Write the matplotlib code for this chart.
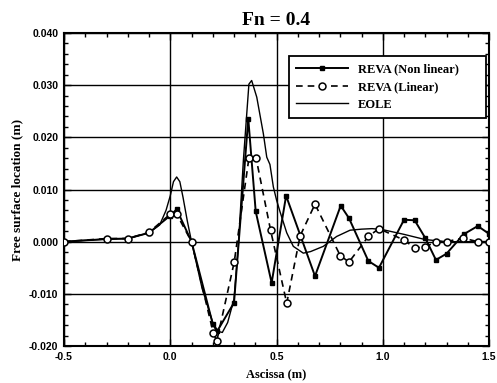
import matplotlib
matplotlib.use("Agg")
import matplotlib.pyplot as plt
from matplotlib.ticker import MultipleLocator, FormatStrFormatter

# ---- data ----
nonlin_x = [-0.5, -0.3, -0.2, -0.1, 0.0, 0.03, 0.1, 0.2, 0.22, 0.30, 0.367, 0.402,
            0.477, 0.545, 0.681, 0.802, 0.841, 0.932, 0.982, 1.10, 1.15, 1.20,
            1.25, 1.30, 1.38, 1.447, 1.50]
nonlin_y = [0.0, 0.0005, 0.0006, 0.0017, 0.0050, 0.0062, 0.0, -0.0158, -0.0172, -0.0117,
            0.0236, 0.0058, -0.0079, 0.0088, -0.0066, 0.0069, 0.0045, -0.0037, -0.0050,
            0.0042, 0.0041, 0.0007, -0.0035, -0.0023, 0.0014, 0.0030, 0.0015]

lin_x = [-0.5, -0.3, -0.2, -0.1, 0.0, 0.03, 0.1, 0.203, 0.219, 0.301, 0.37, 0.404,
         0.472, 0.548, 0.611, 0.681, 0.80, 0.841, 0.932, 0.982, 1.10, 1.15, 1.20,
         1.25, 1.30, 1.376, 1.447, 1.50]
lin_y = [0.0, 0.0006, 0.0006, 0.0018, 0.0053, 0.0053, 0.0, -0.0176, -0.0190, -0.0039,
         0.0160, 0.0160, 0.0022, -0.0118, 0.0011, 0.0072, -0.0027, -0.0039, 0.0010,
         0.0025, 0.0003, -0.0012, -0.0010, 0.0, 0.0, 0.0007, 0.0, 0.0]

eole_x = [-0.5, -0.3, -0.2, -0.1, -0.05, -0.02, 0.0, 0.015, 0.03, 0.045, 0.06, 0.08,
          0.10, 0.15, 0.20, 0.225, 0.245, 0.27, 0.30, 0.32, 0.344, 0.37, 0.383, 0.407,
          0.438, 0.454, 0.469, 0.485, 0.50, 0.516, 0.548, 0.579, 0.626, 0.66, 0.72,
          0.783, 0.846, 0.90, 0.95, 1.00, 1.10, 1.20, 1.30, 1.50]
eole_y = [0.0, 0.0005, 0.0006, 0.0017, 0.0032, 0.0060, 0.0088, 0.0115, 0.0124, 0.0115,
          0.0085, 0.0040, 0.0, -0.0090, -0.0155, -0.0172, -0.0174, -0.0155, -0.0110,
          -0.0010, 0.0156, 0.0302, 0.0309, 0.0277, 0.0207, 0.0162, 0.0148, 0.0105,
          0.0080, 0.0058, 0.0017, -0.0009, -0.0022, -0.0019, -0.0009, 0.0010, 0.0022,
          0.0024, 0.0025, 0.0023, 0.0014, 0.0004, 0.0, 0.0]

title = "Fn = 0.4"
xlabel = "Ascissa (m)"
ylabel = "Free surface location (m)"
labels = ["REVA (Non linear)", "REVA (Linear)", "EOLE"]

serif = ["Liberation Serif", "DejaVu Serif"]
sans = ["Liberation Sans", "DejaVu Sans"]

fig = plt.figure(figsize=(4.97, 3.83), dpi=100)
ax = fig.add_axes([0.1288, 0.0966, 0.984 - 0.1288, 0.9138 - 0.0966])

ax.plot(nonlin_x, nonlin_y, color="black", lw=1.4, marker="s", ms=3,
        mfc="black", mec="black", label=labels[0], zorder=3)
ax.plot(lin_x, lin_y, color="black", lw=1.2, ls=(0, (4, 3)), marker="o", ms=5,
        mfc="white", mec="black", mew=1.1, label=labels[1], zorder=4)
ax.plot(eole_x, eole_y, color="black", lw=1.0, label=labels[2], zorder=2)

ax.set_xlim(-0.5, 1.5)
ax.set_ylim(-0.02, 0.04)
ax.xaxis.set_major_locator(MultipleLocator(0.5))
ax.xaxis.set_minor_locator(MultipleLocator(0.1))
ax.yaxis.set_major_locator(MultipleLocator(0.01))
ax.yaxis.set_minor_locator(MultipleLocator(0.002))
ax.xaxis.set_major_formatter(FormatStrFormatter("%.1f"))
ax.yaxis.set_major_formatter(FormatStrFormatter("%.3f"))

ax.grid(True, which="major", color="black", lw=1.0)
ax.set_axisbelow(True)
for s in ax.spines.values():
    s.set_linewidth(1.5)
ax.tick_params(which="both", direction="in", top=True, right=True, width=1.0)
ax.tick_params(which="major", length=5, pad=4)
ax.tick_params(which="minor", length=3)
for lab in ax.get_xticklabels() + ax.get_yticklabels():
    lab.set_family(sans)
    lab.set_fontweight("bold")
    lab.set_fontsize(7.5)

ax.set_title(title, family=serif, fontweight="bold", fontsize=14, pad=6)
ax.set_xlabel(xlabel, family=serif, fontweight="bold", fontsize=9, labelpad=5)
ax.set_ylabel(ylabel, family=serif, fontweight="bold", fontsize=9.5, labelpad=4)

leg = ax.legend(loc="upper left", bbox_to_anchor=(0.529, 0.727, 0.4635, 0.2),
                mode="expand", fancybox=False,
                framealpha=1, edgecolor="black", handlelength=4.1,
                prop={"family": serif, "weight": "bold", "size": 9},
                borderpad=0.6, labelspacing=0.45, handletextpad=0.8,
                borderaxespad=0.0)
leg.get_frame().set_linewidth(1.3)

fig.savefig("out.png", dpi=100)
